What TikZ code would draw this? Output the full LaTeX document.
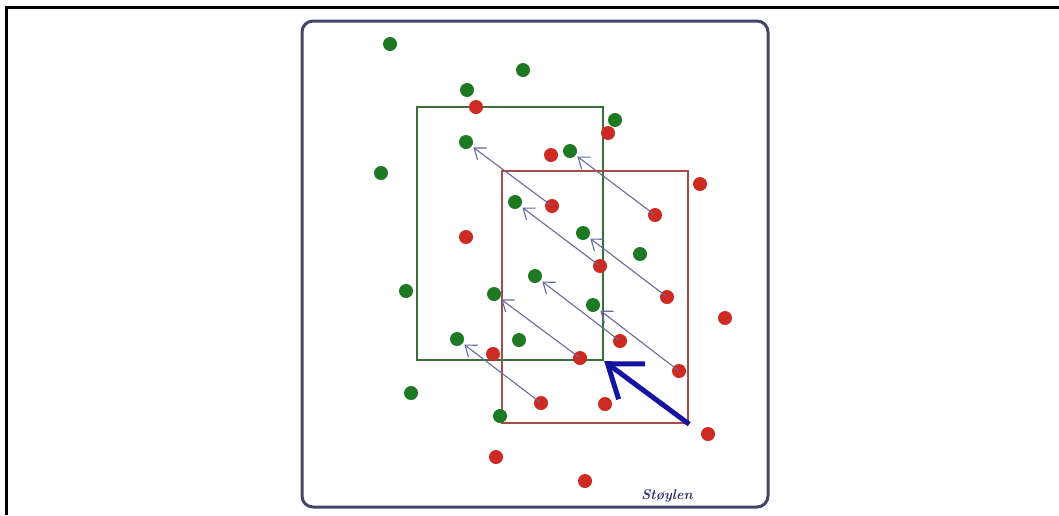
\documentclass[tikz,border=0pt]{standalone}
\usetikzlibrary{arrows.meta}
\definecolor{framecol}{HTML}{45456A}
\definecolor{gbox}{HTML}{3A6E3A}
\definecolor{rbox}{HTML}{A84A48}
\definecolor{gdot}{HTML}{1E7A22}
\definecolor{rdot}{HTML}{CC2A22}
\definecolor{thinarrow}{HTML}{6868A0}
\definecolor{bigarrow}{HTML}{1414A0}
\definecolor{signcol}{HTML}{30306E}
\tikzset{
  gd/.style={circle,fill=gdot,minimum size=14pt,inner sep=0pt},
  rd/.style={circle,fill=rdot,minimum size=14pt,inner sep=0pt},
  gframe/.style={draw=gbox,line width=2.4pt,minimum width=186pt,minimum height=253pt,inner sep=0pt},
  rframe/.style={draw=rbox,line width=2.4pt,minimum width=186pt,minimum height=252pt,inner sep=0pt},
  moveline/.style={draw=thinarrow,line width=1.1pt,-{Straight Barb[length=10pt,width=15pt]},shorten >=2pt,shorten <=-6pt},
  bigmove/.style={draw=bigarrow,line width=5pt,-{Straight Barb[length=30pt,width=44pt,line width=5pt]}},
}
\begin{document}
\begin{tikzpicture}[x=1pt,y=-1pt]
\useasboundingbox (0,0) rectangle (1059,515);
% outer frame (top and left)
\draw[line width=3pt,black] (1059,7) -- (6,7) -- (6,515);
% rounded panel
\draw[draw=framecol,line width=3pt,rounded corners=11pt,fill=white] (302,21) rectangle (768,507);
% boxes
\node[gframe] (greenbox) at (510,233.5) {};
\node[rframe] (redbox) at (595,297) {};
% green dots
\node[gd] (g1) at (390,44) {};
\node[gd] (g2) at (523,70) {};
\node[gd] (g3) at (467,90) {};
\node[gd] (g4) at (466,142) {};
\node[gd] (g5) at (381,173) {};
\node[gd] (g6) at (615,120) {};
\node[gd] (g7) at (570,151) {};
\node[gd] (g8) at (515,202) {};
\node[gd] (g9) at (583,233) {};
\node[gd] (g10) at (640,254) {};
\node[gd] (g11) at (535,276) {};
\node[gd] (g12) at (494,294) {};
\node[gd] (g13) at (593,305) {};
\node[gd] (g14) at (406,291) {};
\node[gd] (g15) at (519,340) {};
\node[gd] (g16) at (457,339) {};
\node[gd] (g17) at (411,393) {};
\node[gd] (g18) at (500,416) {};
% red dots
\node[rd] (r1) at (476,107) {};
\node[rd] (r2) at (608,133) {};
\node[rd] (r3) at (551,155) {};
\node[rd] (r4) at (700,184) {};
\node[rd] (r5) at (552,206) {};
\node[rd] (r6) at (655,215) {};
\node[rd] (r7) at (466,237) {};
\node[rd] (r8) at (600,266) {};
\node[rd] (r9) at (667,297) {};
\node[rd] (r10) at (725,318) {};
\node[rd] (r11) at (620,341) {};
\node[rd] (r12) at (493,354) {};
\node[rd] (r13) at (580,358) {};
\node[rd] (r14) at (679,371) {};
\node[rd] (r15) at (541,403) {};
\node[rd] (r16) at (605,404) {};
\node[rd] (r17) at (708,434) {};
\node[rd] (r18) at (496,457) {};
\node[rd] (r19) at (585,481) {};
% displacement arrows
\draw[moveline] (r5) -- (g4);
\draw[moveline] (r6) -- (g7);
\draw[moveline] (r8) -- (g8);
\draw[moveline] (r9) -- (g9);
\draw[moveline] (r11) -- (g11);
\draw[moveline] (r13) -- (g12);
\draw[moveline] (r14) -- (g13);
\draw[moveline] (r15) -- (g16);
% big arrow
\draw[bigmove] (redbox.south east) -- (greenbox.south east);
% signature
\node[text=signcol,font=\fontsize{14}{16}\selectfont\bfseries\itshape,inner sep=0pt] (sign) at (667,496) {Støylen};
\end{tikzpicture}
\end{document}
